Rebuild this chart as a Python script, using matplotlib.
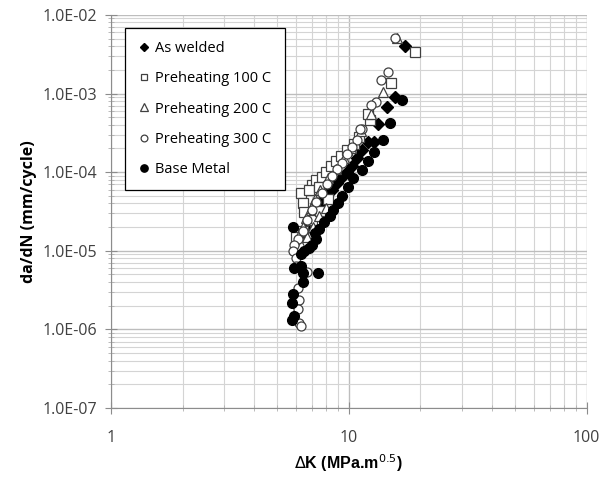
import numpy as np
from matplotlib import pyplot as plt
from matplotlib.ticker import FixedLocator, LogLocator, NullFormatter

# As welded
aw_dk = [6.0, 6.3, 6.6, 6.9, 7.2, 7.5, 7.8, 8.1, 8.5, 8.9, 9.3, 9.8, 10.3,
         10.8, 11.4, 12.0, 12.7, 13.3, 14.4, 15.7, 17.2, 7.6, 8.3]
aw_da = [1.2e-5, 1.5e-5, 1.9e-5, 2.5e-5, 3.0e-5, 3.8e-5, 4.6e-5, 5.2e-5,
         6.0e-5, 7.2e-5, 8.5e-5, 1.0e-4, 1.2e-4, 1.5e-4, 1.9e-4, 2.4e-4,
         2.4e-4, 4.1e-4, 6.8e-4, 9.1e-4, 4.0e-3, 6.5e-5, 7.5e-5]

# Preheating 100 C
p1_dk = [6.3, 6.4, 6.5, 7.0, 7.3, 7.7, 6.8, 7.5, 8.0, 8.4, 8.8, 9.3, 9.8,
         10.5, 11.0, 12.3, 12.0, 15.1, 18.9, 6.0, 6.4, 7.0, 7.6, 8.2]
p1_da = [5.4e-5, 4.0e-5, 3.1e-5, 6.8e-5, 7.9e-5, 8.7e-5, 6.0e-5, 6.5e-5,
         1.0e-4, 1.2e-4, 1.4e-4, 1.6e-4, 1.9e-4, 2.3e-4, 2.8e-4, 4.6e-4,
         5.5e-4, 1.36e-3, 3.4e-3, 1.5e-5, 1.8e-5, 2.5e-5, 3.2e-5, 4.5e-5]

# Preheating 200 C
p2_dk = [16.0, 13.9, 12.4, 11.2, 10.2, 9.5, 8.8, 8.2, 7.6, 7.2, 6.9, 6.6,
         6.4, 6.2, 6.0, 5.9, 6.3, 6.7, 7.1, 7.5, 8.0]
p2_da = [5.1e-3, 1.05e-3, 5.5e-4, 3.3e-4, 2.0e-4, 1.5e-4, 1.1e-4, 8.5e-5,
         6.0e-5, 4.5e-5, 3.5e-5, 2.6e-5, 2.0e-5, 1.6e-5, 1.3e-5, 1.1e-5,
         1.2e-5, 1.5e-5, 2.0e-5, 2.8e-5, 3.5e-5]

# Preheating 300 C
p3_dk = [15.7, 14.6, 13.7, 13.0, 12.4, 11.4, 11.1, 10.8, 10.3, 9.8, 9.4,
         8.9, 8.5, 8.1, 7.7, 7.3, 7.0, 6.7, 6.4, 6.1, 5.9, 5.8, 6.0, 6.7,
         6.1, 6.2, 6.1, 6.2, 6.3, 6.0]
p3_da = [5.1e-3, 1.9e-3, 1.5e-3, 7.8e-4, 7.2e-4, 3.5e-4, 3.5e-4, 2.6e-4,
         2.1e-4, 1.7e-4, 1.3e-4, 1.1e-4, 9.0e-5, 7.0e-5, 5.5e-5, 4.2e-5,
         3.3e-5, 2.5e-5, 1.8e-5, 1.4e-5, 1.2e-5, 1.0e-5, 8.0e-6, 5.3e-6,
         3.4e-6, 2.4e-6, 1.8e-6, 1.2e-6, 1.1e-6, 6.5e-6]

# Base Metal
bm_dk = [5.75, 5.9, 5.75, 5.8, 6.4, 5.9, 6.4, 6.3, 7.4, 5.8, 6.3, 6.5, 6.8,
         7.0, 7.3, 7.2, 7.5, 7.9, 8.3, 8.6, 9.0, 9.4, 9.9, 10.4, 11.4, 12.0,
         12.8, 13.9, 14.9, 16.7]
bm_da = [1.3e-6, 1.5e-6, 2.2e-6, 2.8e-6, 4.0e-6, 6.0e-6, 5.2e-6, 6.5e-6,
         5.2e-6, 2.0e-5, 9.0e-6, 1.0e-5, 1.1e-5, 1.2e-5, 1.4e-5, 1.7e-5,
         1.9e-5, 2.3e-5, 2.8e-5, 3.3e-5, 4.1e-5, 5.0e-5, 6.5e-5, 8.4e-5,
         1.06e-4, 1.4e-4, 1.8e-4, 2.6e-4, 4.2e-4, 8.3e-4]

y_ticks = [1e-7, 1e-6, 1e-5, 1e-4, 1e-3, 1e-2]
y_labels = ['1.0E-07', '1.0E-06', '1.0E-05', '1.0E-04', '1.0E-03', '1.0E-02']
x_ticks = [1, 10, 100]
x_labels = ['1', '10', '100']

fig = plt.figure(figsize=(6.03, 4.79), dpi=100, facecolor='white')
ax = fig.add_axes([0.184, 0.148, 0.789, 0.821])
ax.set_xscale('log')
ax.set_yscale('log')
ax.set_xlim(1, 100)
ax.set_ylim(1e-7, 1e-2)

ms = 6.5
ax.plot(aw_dk, aw_da, 'D', ms=ms - 0.8, mfc='black', mec='black', label='As welded', zorder=3)
ax.plot(p1_dk, p1_da, 's', ms=ms, mfc='white', mec='#404040', mew=0.9, label='Preheating 100 C', zorder=3)
ax.plot(p2_dk, p2_da, '^', ms=ms + 0.5, mfc='white', mec='#404040', mew=0.9, label='Preheating 200 C', zorder=3)
ax.plot(p3_dk, p3_da, 'o', ms=ms, mfc='white', mec='#404040', mew=0.9, label='Preheating 300 C', zorder=3)
ax.plot(bm_dk, bm_da, 'o', ms=ms + 0.5, mfc='black', mec='black', label='Base Metal', zorder=3)

ax.yaxis.set_major_locator(FixedLocator(y_ticks))
ax.set_yticklabels(y_labels)
ax.xaxis.set_major_locator(FixedLocator(x_ticks))
ax.set_xticklabels(x_labels)
ax.xaxis.set_minor_locator(LogLocator(base=10, subs=np.arange(2, 10)))
ax.yaxis.set_minor_locator(LogLocator(base=10, subs=np.arange(2, 10)))
ax.xaxis.set_minor_formatter(NullFormatter())
ax.yaxis.set_minor_formatter(NullFormatter())

ax.grid(True, which='major', color='#bdbdbd', lw=1.0, zorder=0)
ax.grid(True, which='minor', color='#d4d4d4', lw=0.8, zorder=0)
ax.set_axisbelow(True)

for s in ['top', 'right']:
    ax.spines[s].set_visible(False)
for s in ['left', 'bottom']:
    ax.spines[s].set_color('#8c8c8c')

ax.tick_params(which='major', direction='inout', length=8, color='#8c8c8c',
               labelsize=11.5, labelcolor='#404040')
ax.tick_params(axis='y', which='major', pad=6)
ax.tick_params(axis='x', which='major', pad=12)
ax.tick_params(which='minor', direction='inout', length=4, color='#b0b0b0')
for lab in ax.get_xticklabels() + ax.get_yticklabels():
    lab.set_fontfamily('Open Sans')

ax.set_xlabel('$\\Delta$K (MPa.m$^{0.5}$)', fontsize=11.5, fontweight='bold',
              family='Liberation Sans', labelpad=4)
ax.set_ylabel('da/dN (mm/cycle)', fontsize=11.5, fontweight='bold',
              family='Open Sans', labelpad=4)

leg = ax.legend(loc='upper left', bbox_to_anchor=(0.029, 0.967), frameon=True,
                fancybox=False, edgecolor='black', framealpha=1,
                prop={'family': 'Open Sans', 'size': 10.5},
                labelspacing=1.05, handletextpad=0.3, handlelength=0.9,
                borderpad=0.9, borderaxespad=0, numpoints=1, markerscale=0.75)
leg.get_frame().set_linewidth(0.9)

fig.savefig('out.png', dpi=100)
